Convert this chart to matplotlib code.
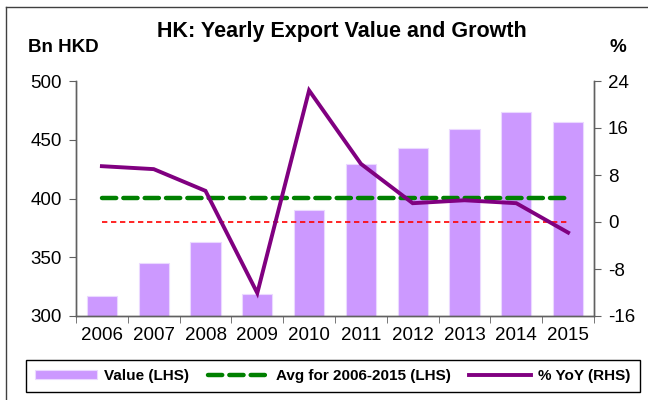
import matplotlib.pyplot as plt
from matplotlib.lines import Line2D
import numpy as np

plt.rcParams['font.family'] = ['Liberation Sans', 'DejaVu Sans']
plt.rcParams['axes.unicode_minus'] = False

# data
years = ['2006', '2007', '2008', '2009', '2010', '2011', '2012', '2013', '2014', '2015']
value = [316.8, 344.9, 363.0, 318.5, 390.2, 429.1, 443.0, 459.1, 473.9, 465.4]
yoy = [9.5, 9.0, 5.3, -12.1, 22.4, 9.9, 3.2, 3.7, 3.2, -1.8]
avg_value = np.mean(value)

x = np.arange(len(years))
spine_col = '#606060'

fig = plt.figure(figsize=(6.48, 4.0), dpi=100)
ax = fig.add_axes([76 / 648, 84 / 400, 518 / 648, 235 / 400])
ax2 = ax.twinx()

# bars and lines
bars = ax.bar(x, value, width=0.58, color='#CC99FF', edgecolor='#EBD9FF',
              linewidth=0.8, label='Value (LHS)', zorder=2)
avg_line = ax.hlines(avg_value, x[0], x[-1], colors='#008000', linewidth=3.2,
                     linestyles=(0, (3.2, 1.6)), label='Avg for 2006-2015 (LHS)', zorder=3)
avg_line.set_capstyle('round')
ax2.hlines(0, x[0], x[-1], colors='#FF0000', linewidth=1.2,
           linestyles=(0, (3.2, 2.2)), zorder=2)
yoy_line, = ax2.plot(x, yoy, color='#800080', linewidth=2.8, label='% YoY (RHS)',
                     solid_joinstyle='miter', zorder=4)

# axes
ax.set_xlim(-0.5, len(years) - 0.5)
ax.set_ylim(300, 500)
ax.set_yticks(np.arange(300, 501, 50))
ax2.set_ylim(-16, 24)
ax2.set_yticks(np.arange(-16, 25, 8))
ax.set_xticks(x)
ax.set_xticklabels(years)
ax.set_xticks(np.arange(-0.5, len(years), 1), minor=True)
ax.tick_params(axis='x', which='major', length=0, labelsize=13.5, pad=8)
ax.tick_params(axis='x', which='minor', length=5, direction='out', color=spine_col)
ax.tick_params(axis='y', length=5, direction='out', labelsize=13.5, color=spine_col, pad=5)
ax2.tick_params(axis='y', length=5, direction='out', labelsize=13.5, color=spine_col, pad=5)

for a in (ax, ax2):
    a.spines['top'].set_visible(False)
    for s in ('left', 'right', 'bottom'):
        a.spines[s].set_color(spine_col)
        a.spines[s].set_linewidth(1.0)
ax.set_zorder(ax2.get_zorder() - 1)
ax2.patch.set_visible(False)
ax.patch.set_visible(False)

# texts
fig.text(342 / 648, 1 - 31 / 400, 'HK: Yearly Export Value and Growth', ha='center', va='center',
         fontsize=15.5, fontweight='bold')
fig.text(28 / 648, 1 - 47 / 400, 'Bn HKD', ha='left', va='center', fontsize=13.5, fontweight='bold')
fig.text(618 / 648, 1 - 47 / 400, '%', ha='center', va='center', fontsize=13.5, fontweight='bold')

# outer frame
fig.add_artist(Line2D([5.5 / 648, 5.5 / 648], [0, 1 - 7 / 400], transform=fig.transFigure,
                      color='#404040', linewidth=1.0))
fig.add_artist(Line2D([5.5 / 648, 1], [1 - 7 / 400, 1 - 7 / 400], transform=fig.transFigure,
                      color='#404040', linewidth=1.0))

# legend
avg_handle = Line2D([], [], color='#008000', linewidth=3.2, linestyle=(0, (3.2, 1.6)),
                    dash_capstyle='round')
leg = fig.legend([bars, avg_handle, yoy_line],
                 ['Value (LHS)', 'Avg for 2006-2015 (LHS)', '% YoY (RHS)'],
                 loc='center', bbox_to_anchor=(333 / 648, 1 - 376 / 400), ncol=3,
                 frameon=True, fancybox=False, edgecolor='black', framealpha=1,
                 prop={'weight': 'bold', 'size': 11}, handlelength=4.0, handleheight=0.5,
                 columnspacing=1.2, handletextpad=0.5, borderpad=0.6)
leg.get_frame().set_linewidth(1.0)

fig.savefig('out.png', dpi=100)
